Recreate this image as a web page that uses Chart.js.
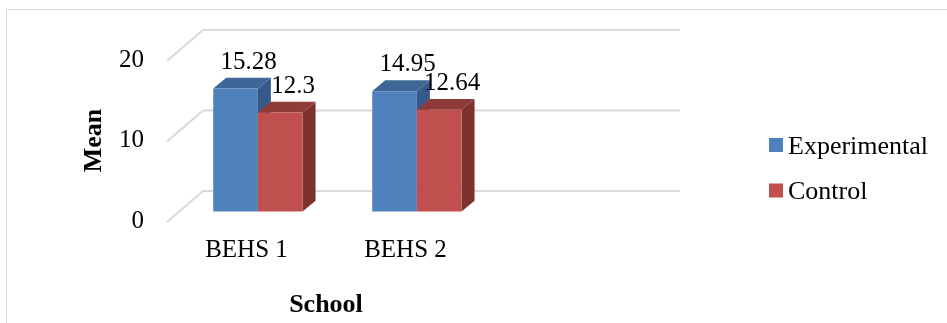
<!DOCTYPE html>
<html>
<head>
<meta charset="utf-8">
<title>Mean by school</title>
<script src="https://cdn.jsdelivr.net/npm/chart.js@4.4.0/dist/chart.umd.min.js"></script>
<style>
  html, body { margin: 0; padding: 0; background: #fff; }
  #wrap { width: 947px; height: 323px; }
</style>
</head>
<body>
<div id="wrap"><canvas id="meanChart" width="947" height="323"></canvas></div>
<script>
'use strict';

// ── DATA ──────────────────────────────────────────────────────
const schools      = ['BEHS 1', 'BEHS 2'];
const seriesNames  = ['Experimental', 'Control'];
const experimental = [15.28, 14.95];
const control      = [12.3, 12.64];
const yMin = 0, yMax = 20, yStep = 10;

// ── STYLE ─────────────────────────────────────────────────────
const SERIF = "'Times New Roman', 'Liberation Serif', serif";
const FACE = [
  { front: '#4f81bd', top: '#3e6696', side: '#36598a' },
  { front: '#c0504d', top: '#8f3b39', side: '#7e3230' },
];
const DEPTH      = { x: 36, y: -30 }; // floor depth, front edge -> back wall
const BAR_FRONT  = 0.317;             // bars start this far into the floor
const BAR_DEPTH  = 0.36;              // and are this deep
const WALL_SLOTS = 3;                 // back wall spans three category slots
const GRID       = '#d9d9d9';

// ── 3D BOX PLUGIN ─────────────────────────────────────────────
function poly(ctx, pts, fill) {
  ctx.beginPath();
  ctx.moveTo(pts[0][0], pts[0][1]);
  for (let i = 1; i < pts.length; i++) ctx.lineTo(pts[i][0], pts[i][1]);
  ctx.closePath();
  ctx.fillStyle = fill;
  ctx.fill();
}

const box3d = {
  id: 'box3d',

  beforeDraw(chart) {
    const { ctx } = chart;
    ctx.save();
    ctx.fillStyle = '#fff';
    ctx.fillRect(0, 0, chart.width, chart.height);
    ctx.strokeStyle = GRID;
    ctx.lineWidth = 1;
    ctx.strokeRect(6.5, 9.5, chart.width + 10, chart.height + 10);
    ctx.restore();
  },

  // back wall gridlines with the receding floor edge at the left
  beforeDatasetsDraw(chart) {
    const { ctx, chartArea: a, scales: { x, y } } = chart;
    const slot = x.getPixelForValue(1) - x.getPixelForValue(0);
    const wallRight = a.left + DEPTH.x + slot * WALL_SLOTS;
    ctx.save();
    ctx.strokeStyle = GRID;
    ctx.lineWidth = 2;
    y.ticks.forEach(t => {
      const py = y.getPixelForValue(t.value);
      ctx.beginPath();
      ctx.moveTo(a.left, py + 1);
      ctx.lineTo(a.left + DEPTH.x, py + DEPTH.y);
      ctx.lineTo(wallRight, py + DEPTH.y);
      ctx.stroke();
    });
    ctx.restore();
  },

  // flat bars are replaced by the boxes drawn below
  beforeDatasetDraw() { return false; },

  afterDatasetsDraw(chart) {
    const { ctx } = chart;
    const ox = BAR_FRONT * DEPTH.x, oy = BAR_FRONT * DEPTH.y;
    const dx = BAR_DEPTH * DEPTH.x, dy = BAR_DEPTH * DEPTH.y;
    const labels = [];

    ctx.save();
    chart.data.labels.forEach((_, i) => {
      chart.data.datasets.forEach((ds, d) => {
        const el = chart.getDatasetMeta(d).data[i];
        const { x, y, base, width } = el.getProps(['x', 'y', 'base', 'width'], true);
        const l = x - width / 2 + ox, r = l + width;
        const t = y + oy, b = base + oy;
        const c = FACE[d];

        poly(ctx, [[r, t], [r + dx, t + dy], [r + dx, b + dy], [r, b]], c.side);
        poly(ctx, [[l, t], [l + dx, t + dy], [r + dx, t + dy], [r, t]], c.top);
        poly(ctx, [[l, t], [r, t], [r, b], [l, b]], c.front);

        labels.push({ text: String(ds.data[i]), x: (l + r) / 2 + dx, y: t + dy - 9 });
      });
    });

    ctx.fillStyle = '#000';
    ctx.font = `25px ${SERIF}`;
    ctx.textAlign = 'center';
    ctx.textBaseline = 'alphabetic';
    labels.forEach(lb => ctx.fillText(lb.text, lb.x, lb.y));
    ctx.restore();
  },

  // legend at the right
  afterDraw(chart) {
    const { ctx } = chart;
    ctx.save();
    ctx.font = `26px ${SERIF}`;
    ctx.textAlign = 'left';
    ctx.textBaseline = 'alphabetic';
    chart.data.datasets.forEach((ds, d) => {
      const top = 138 + d * 45.5;
      ctx.fillStyle = FACE[d].front;
      ctx.fillRect(769, top, 14, 14);
      ctx.fillStyle = '#000';
      ctx.fillText(ds.label, 788, top + 15.5);
    });
    ctx.restore();
  },
};

// ── CHART ─────────────────────────────────────────────────────
new Chart(document.getElementById('meanChart'), {
  type: 'bar',
  data: {
    labels: schools,
    datasets: [
      { label: seriesNames[0], data: experimental, backgroundColor: FACE[0].front },
      { label: seriesNames[1], data: control,      backgroundColor: FACE[1].front },
    ],
  },
  options: {
    responsive: false,
    animation: false,
    devicePixelRatio: 1,
    layout: { padding: { left: 0, top: 60, right: 462, bottom: 0 } },
    datasets: { bar: { categoryPercentage: 0.562, barPercentage: 1 } },
    scales: {
      x: {
        grid: { display: false, drawTicks: false },
        border: { display: false },
        ticks: {
          color: '#000',
          font: { family: SERIF, size: 25 },
          padding: 14,
          maxRotation: 0,
          autoSkip: false,
        },
        title: {
          display: true,
          text: 'School',
          color: '#000',
          font: { family: SERIF, size: 26, weight: 'bold' },
          padding: { top: 0, bottom: 2 },
        },
        afterFit: s => { s.height = 102; },
      },
      y: {
        min: yMin,
        max: yMax,
        grid: { display: false, drawTicks: false },
        border: { display: false },
        ticks: {
          stepSize: yStep,
          color: '#000',
          font: { family: SERIF, size: 25 },
          padding: 23,
        },
        title: {
          display: true,
          text: 'Mean',
          color: '#000',
          font: { family: SERIF, size: 26, weight: 'bold' },
          padding: { top: 79, bottom: 0 },
        },
        afterFit: s => { s.width = 167; },
      },
    },
    plugins: {
      legend: { display: false },
      tooltip: { enabled: false },
    },
  },
  plugins: [box3d],
});
</script>
</body>
</html>
